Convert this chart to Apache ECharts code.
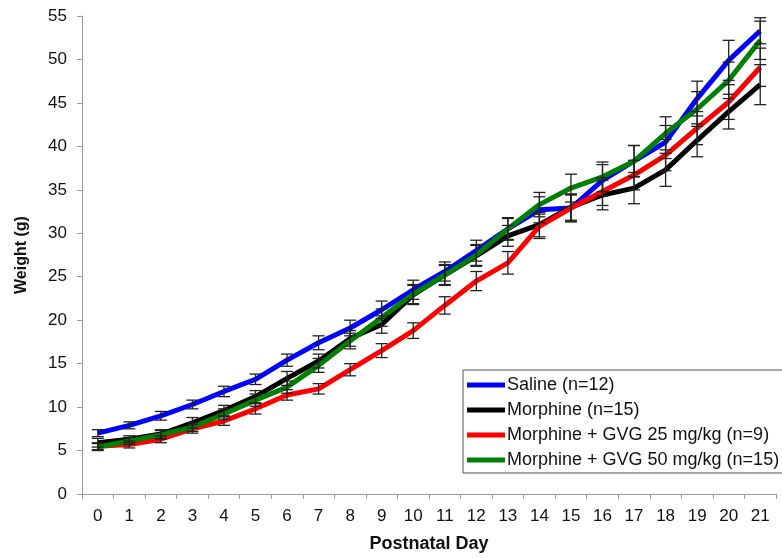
<!DOCTYPE html>
<html>
<head>
<meta charset="utf-8">
<script src="https://cdn.jsdelivr.net/npm/echarts@6/dist/echarts.min.js"></script>
<style>html,body{margin:0;padding:0;background:#fff}#c{width:782px;height:558px}</style>
</head>
<body>
<div id="c"></div>
<script>
const days = ['0','1','2','3','4','5','6','7','8','9','10','11','12','13','14','15','16','17','18','19','20','21'];
const yTicks = [0,5,10,15,20,25,30,35,40,45,50,55];

const salineName = 'Saline (n=12)';
const morphineName = 'Morphine (n=15)';
const gvg25Name = 'Morphine + GVG 25 mg/kg (n=9)';
const gvg50Name = 'Morphine + GVG 50 mg/kg (n=15)';

const saline   = [7.0,7.9,9.0,10.3,11.8,13.2,15.4,17.4,19.1,21.2,23.5,25.6,28.0,30.5,32.7,32.9,36.1,38.3,40.5,45.5,49.9,53.3];
const morphine = [5.9,6.3,6.9,8.2,9.6,11.2,13.3,15.3,17.9,19.5,22.9,25.2,27.4,29.7,31.0,33.0,34.4,35.2,37.3,40.7,44.0,47.1];
const gvg25    = [5.5,5.7,6.3,7.5,8.4,9.8,11.4,12.1,14.3,16.5,18.8,21.7,24.5,26.6,30.8,32.9,34.8,36.7,39.0,42.1,45.1,49.1];
const gvg50    = [5.4,6.1,6.8,7.7,9.2,10.8,12.3,14.8,17.6,20.3,23.0,25.2,27.5,30.5,33.3,35.2,36.5,38.3,41.5,44.3,47.6,52.2];

const salineErr   = [0.4,0.4,0.5,0.5,0.6,0.6,0.7,0.8,0.9,1.0,1.1,1.1,1.2,1.2,1.5,1.6,1.8,1.8,1.9,2.0,2.3,1.5];
const morphineErr = [0.5,0.4,0.5,0.6,0.6,0.7,0.8,0.8,0.9,1.0,1.1,1.1,1.2,1.2,1.4,1.5,1.7,1.8,1.9,1.9,2.0,2.3];
const gvg25Err    = [0.4,0.4,0.4,0.5,0.5,0.6,0.6,0.6,0.7,0.8,0.9,1.0,1.1,1.3,1.4,1.5,1.6,1.7,1.8,1.9,2.0,2.2];
const gvg50Err    = [0.4,0.4,0.5,0.5,0.6,0.7,0.7,0.8,0.9,1.0,1.1,1.2,1.2,1.3,1.4,1.6,1.7,1.8,1.9,2.0,2.1,2.2];

const groups = [
  {name: salineName, data: saline, err: salineErr, color: '#0000ff'},
  {name: morphineName, data: morphine, err: morphineErr, color: '#000000'},
  {name: gvg25Name, data: gvg25, err: gvg25Err, color: '#ff0000'},
  {name: gvg50Name, data: gvg50, err: gvg50Err, color: '#008000'}
];

function errRender(params, api) {
  const x = api.value(0);
  const lo = api.coord([x, api.value(1)]);
  const hi = api.coord([x, api.value(2)]);
  const w = 6;
  const st = {stroke: '#222', lineWidth: 1.3};
  return {
    type: 'group',
    children: [
      {type: 'line', shape: {x1: lo[0], y1: lo[1], x2: hi[0], y2: hi[1]}, style: st},
      {type: 'line', shape: {x1: lo[0]-w, y1: lo[1], x2: lo[0]+w, y2: lo[1]}, style: st},
      {type: 'line', shape: {x1: hi[0]-w, y1: hi[1], x2: hi[0]+w, y2: hi[1]}, style: st}
    ]
  };
}

const series = [];
groups.forEach(g => {
  series.push({
    name: g.name, type: 'line', data: g.data, showSymbol: false, symbol: 'none',
    lineStyle: {color: g.color, width: 5}, itemStyle: {color: g.color},
    z: 3, animation: false
  });
});
groups.forEach(g => {
  series.push({
    type: 'custom', renderItem: errRender,
    data: g.data.map((v, i) => [i, v - g.err[i], v + g.err[i]]),
    encode: {x: 0, y: [1, 2]}, z: 4, silent: true, animation: false
  });
});

const font = 'Liberation Sans, Arial, sans-serif';
const chart = echarts.init(document.getElementById('c'), null, {renderer: 'canvas'});
chart.setOption({
  animation: false,
  backgroundColor: '#fff',
  grid: {left: 82, top: 16, right: 6, bottom: 62, containLabel: false},
  legend: {
    data: groups.map(g => ({name: g.name, icon: 'rect'})),
    orient: 'vertical', left: 463, top: 370,
    itemWidth: 38, itemHeight: 5, itemGap: 7,
    padding: [6, 8, 4, 4],
    backgroundColor: '#fff', borderColor: '#555', borderWidth: 1,
    textStyle: {fontFamily: font, fontSize: 18, color: '#111', padding: [0,0,0,-3]}
  },
  xAxis: {
    type: 'category', data: days, boundaryGap: true,
    name: 'Postnatal Day', nameLocation: 'middle', nameGap: 41,
    nameTextStyle: {fontFamily: font, fontSize: 18, fontWeight: 'bold', color: '#111'},
    axisLine: {lineStyle: {color: '#999', width: 1}},
    axisTick: {show: true, alignWithLabel: false, length: 5, lineStyle: {color: '#999'}},
    axisLabel: {fontFamily: font, fontSize: 17, color: '#111', margin: 14},
    splitLine: {show: false}
  },
  yAxis: {
    type: 'value', min: 0, max: 55, interval: 5,
    name: 'Weight (g)', nameLocation: 'middle', nameGap: 52, nameRotate: 90,
    nameTextStyle: {fontFamily: font, fontSize: 16, fontWeight: 'bold', color: '#111'},
    axisLine: {show: true, lineStyle: {color: '#999', width: 1}},
    axisTick: {show: true, length: 5, lineStyle: {color: '#999'}},
    axisLabel: {fontFamily: font, fontSize: 17, color: '#111', margin: 15,
      formatter: v => yTicks.includes(v) ? String(v) : ''},
    splitLine: {show: false}
  },
  series: series
});
</script>
</body>
</html>
